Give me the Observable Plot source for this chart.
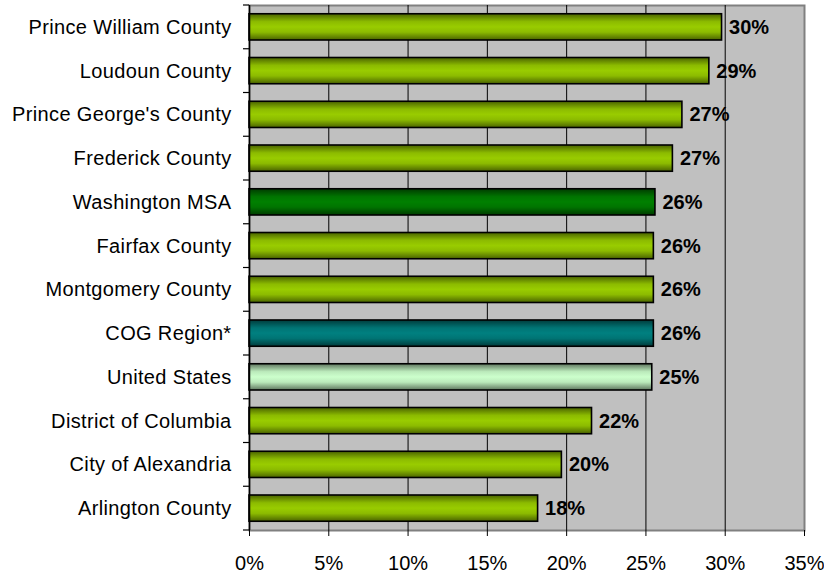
<!DOCTYPE html>
<html><head><meta charset="utf-8">
<script src="https://cdn.jsdelivr.net/npm/d3@7"></script>
<script src="https://cdn.jsdelivr.net/npm/@observablehq/plot@0.6"></script>
<style>body{margin:0;background:#fff;} svg{display:block;} .ylab text{letter-spacing:0.35px;}</style>
</head><body><div id="chart"></div>
<script>
const categories = ["Prince William County","Loudoun County","Prince George's County","Frederick County","Washington MSA","Fairfax County","Montgomery County","COG Region*","United States","District of Columbia","City of Alexandria","Arlington County"];
const values = [29.8, 29.0, 27.3, 26.7, 25.6, 25.5, 25.5, 25.5, 25.4, 21.6, 19.7, 18.2];
const labels = ["30%","29%","27%","27%","26%","26%","26%","26%","25%","22%","20%","18%"];
const groups = ["county","county","county","county","msa","county","county","cog","us","county","county","county"];
const xTicks = [0,5,10,15,20,25,30,35];
const tickLabels = ["0%","5%","10%","15%","20%","25%","30%","35%"];

const data = categories.map((name,i)=>({name, value: values[i], label: labels[i], group: groups[i]}));
const gradId = {county:"gCounty", msa:"gMsa", cog:"gCog", us:"gUs"};
const font = "'Liberation Sans', Arial, sans-serif";

function bandTicks(index, scales, vals, dims) {
  const y = scales.y;
  const g = d3.create("svg:g");
  const bw = y.bandwidth ? y.bandwidth() : 0;
  const step = y.step ? y.step() : bw;
  const gap = (step - bw) / 2;
  const x0 = dims.marginLeft;
  const pos = categories.map(c => y(c) - gap);
  pos.push(y(categories[categories.length-1]) + bw + gap);
  for (const p of pos) {
    g.append("line").attr("x1", x0 - 6).attr("x2", x0).attr("y1", p).attr("y2", p)
      .attr("stroke", "#000").attr("stroke-width", 1.2);
  }
  return g.node();
}

const chart = Plot.plot({
  width: 824,
  height: 578,
  marginLeft: 249,
  marginRight: 20,
  marginTop: 5,
  marginBottom: 48,
  style: {fontFamily: font, background: "#fff", overflow: "visible"},
  x: {domain: [0, 35], ticks: xTicks, label: null},
  y: {domain: categories, paddingInner: 0.4, paddingOuter: 0.2, round: false, label: null},
  marks: [
    Plot.frame({fill: "#c0c0c0", stroke: "#808080", strokeWidth: 2}),
    Plot.gridX(xTicks.filter(t => t > 0 && t < 35), {stroke: "#000", strokeOpacity: 1, strokeWidth: 1}),
    Plot.barX(data, {
      y: "name", x: "value",
      fill: d => `url(#${gradId[d.group]})`,
      stroke: "#000", strokeWidth: 1.6
    }),
    Plot.text(data, {
      y: "name", x: "value", text: "label",
      textAnchor: "start", dx: 7, fontSize: 20, fontWeight: "bold", fill: "#000"
    }),
    Plot.ruleX([0], {stroke: "#000", strokeWidth: 1.5}),
    Plot.ruleY([0], {frameAnchor: "bottom", stroke: "#000", strokeWidth: 1.5}),
    Plot.axisX(xTicks, {
      tickFormat: (d, i) => tickLabels[i], fontSize: 20, tickSize: 6, tickPadding: 19,
      stroke: "#000", fill: "#000", label: null
    }),
    Plot.axisY({tickSize: 0, tickPadding: 18, fontSize: 20, fill: "#000", label: null, className: "ylab"}),
    bandTicks
  ]
});

// Gradient definitions (Excel-style horizontal shading)
const defs = `<defs>
<linearGradient id="gCounty" x1="0" y1="0" x2="0" y2="1">
<stop offset="0" stop-color="#4a6300"/><stop offset="0.3" stop-color="#8cbb00"/><stop offset="0.5" stop-color="#99cc00"/><stop offset="0.7" stop-color="#8cbb00"/><stop offset="1" stop-color="#4a6300"/></linearGradient>
<linearGradient id="gMsa" x1="0" y1="0" x2="0" y2="1">
<stop offset="0" stop-color="#003b00"/><stop offset="0.3" stop-color="#007400"/><stop offset="0.5" stop-color="#008000"/><stop offset="0.7" stop-color="#007400"/><stop offset="1" stop-color="#003b00"/></linearGradient>
<linearGradient id="gCog" x1="0" y1="0" x2="0" y2="1">
<stop offset="0" stop-color="#003b3b"/><stop offset="0.3" stop-color="#007474"/><stop offset="0.5" stop-color="#008080"/><stop offset="0.7" stop-color="#007474"/><stop offset="1" stop-color="#003b3b"/></linearGradient>
<linearGradient id="gUs" x1="0" y1="0" x2="0" y2="1">
<stop offset="0" stop-color="#5f765f"/><stop offset="0.3" stop-color="#bbeabb"/><stop offset="0.5" stop-color="#ccffcc"/><stop offset="0.7" stop-color="#bbeabb"/><stop offset="1" stop-color="#5f765f"/></linearGradient>
</defs>`;
chart.insertAdjacentHTML("afterbegin", defs);
document.getElementById("chart").appendChild(chart);
</script>
</body></html>
